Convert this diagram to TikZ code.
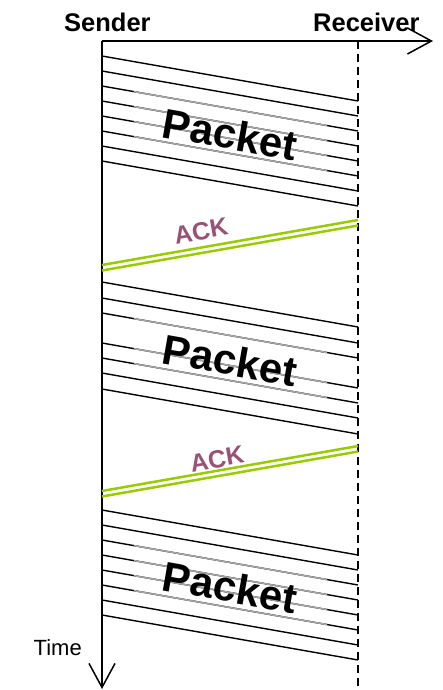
\documentclass[tikz,border=0pt]{standalone}
\usepackage{fontspec}
\setmainfont{Liberation Sans}
\usetikzlibrary{arrows.meta}
\definecolor{ackgreen}{RGB}{153,204,0}
\definecolor{ackpurple}{RGB}{152,82,118}
\definecolor{midgray}{RGB}{165,165,165}
\begin{document}
\begin{tikzpicture}[x=1pt,y=-1pt,
  axisline/.style={line width=1.6pt, black, -{Straight Barb[length=24pt,width=26pt,line width=1.5pt]}},
  recvline/.style={line width=1.5pt, black, dash pattern=on 8pt off 5pt},
  msgline/.style={line width=1.4pt, black},
  graymid/.style={line width=1.45pt, midgray},
  ackline/.style={line width=2.5pt, ackgreen},
  headlabel/.style={inner sep=0pt, font=\fontsize{25.5}{25.5}\selectfont\bfseries},
  packetlabel/.style={inner sep=0pt, rotate=-10, font=\fontsize{42}{42}\selectfont\bfseries},
  acklabel/.style={inner sep=0pt, rotate=10, text=ackpurple, font=\fontsize{25}{25}\selectfont\bfseries},
  timelabel/.style={inner sep=0pt, font=\fontsize{22}{22}\selectfont}]
\useasboundingbox (0,0) rectangle (442,690);

% axes
\coordinate (S) at (102,41);
\coordinate (Stime) at (102,689);
\coordinate (Xend) at (433,41);
\coordinate (R) at (358,41);
\coordinate (Rend) at (358,690);
\draw[recvline] (R) -- (Rend);
\draw[axisline] (S) -- (Xend);
\draw[axisline] (S) -- (Stime);

\node[headlabel, anchor=base west] (sender) at (64,32) {Sender};
\node[headlabel, anchor=base west] (receiver) at (313,32) {Receiver};
\node[timelabel, anchor=base east] (time) at (82,655) {Time};

% packet group 1
\foreach \y in {56,71,86,101,116,131,146,161} {
  \draw[msgline] (102,\y) -- (358,\y+45);
}
\foreach \y in {86,101,116,131} {
  \draw[graymid] (134,\y+5.625) -- (327,\y+39.55);
}
\node[packetlabel] (p1) at (230,134) {Packet};

% ack 1
\draw[ackline] (102,265) -- (358,220);
\draw[ackline] (102,270.5) -- (358,225.5);
\node[acklabel] (a1) at (201,231) {ACK};

% packet group 2
\foreach \y in {282,298,313,343,358,373,389} {
  \draw[msgline] (102,\y) -- (358,\y+45);
}
\foreach \y in {313,343,358} {
  \draw[graymid] (134,\y+5.625) -- (327,\y+39.55);
}
\node[packetlabel] (p2) at (230,360) {Packet};

% ack 2
\draw[ackline] (102,491) -- (358,446);
\draw[ackline] (102,496.5) -- (358,451.5);
\node[acklabel] (a2) at (217,459) {ACK};

% packet group 3
\foreach \y in {510,525,540,555,570,585,600,615} {
  \draw[msgline] (102,\y) -- (358,\y+45);
}
\foreach \y in {540,555,570,585} {
  \draw[graymid] (134,\y+5.625) -- (327,\y+39.55);
}
\node[packetlabel] (p3) at (230,587) {Packet};
\end{tikzpicture}
\end{document}
